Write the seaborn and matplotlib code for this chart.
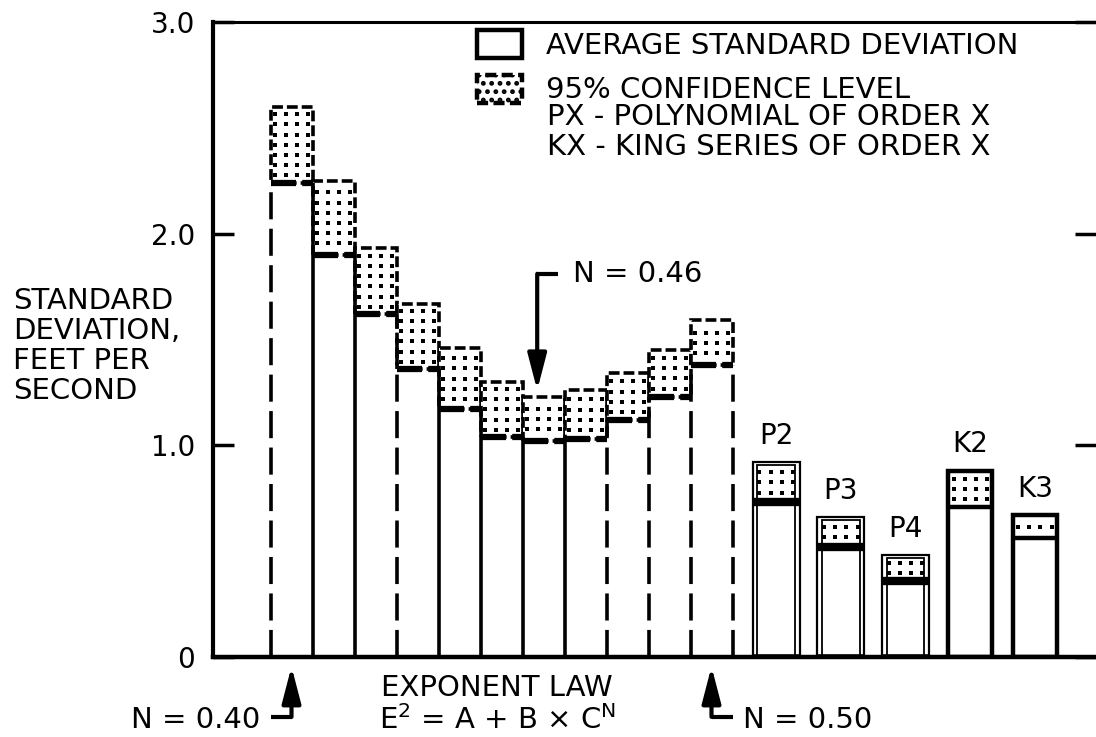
import matplotlib
matplotlib.use("Agg")
import matplotlib.pyplot as plt
from matplotlib.patches import Patch
import numpy as np
import pandas as pd
import seaborn as sns

# ---------------- data ----------------
exp_avg = [2.24, 1.90, 1.62, 1.36, 1.17, 1.04, 1.02, 1.03, 1.12, 1.23, 1.38]
exp_conf = [2.60, 2.25, 1.93, 1.67, 1.46, 1.30, 1.23, 1.26, 1.34, 1.45, 1.59]
exp_edge_dashed = [True, False, False, True, False, False, False, False, True, True, True, True]
fit_labels = ["P2", "P3", "P4", "K2", "K3"]
fit_avg = [0.73, 0.52, 0.36, 0.71, 0.56]
fit_conf = [0.92, 0.66, 0.48, 0.88, 0.67]
y_ticks = [0.0, 1.0, 2.0, 3.0]
y_tick_labels = ["0", "1.0", "2.0", "3.0"]
legend_labels = ["AVERAGE STANDARD DEVIATION", "95% CONFIDENCE LEVEL"]
legend_notes = ["PX - POLYNOMIAL OF ORDER X", "KX - KING SERIES OF ORDER X"]
y_label = "STANDARD\nDEVIATION,\nFEET PER\nSECOND"
n_marks = ["N = 0.40", "N = 0.46", "N = 0.50"]
n_mark_bar = [0, 6, 10]
group_title = "EXPONENT LAW"
group_formula = r"E$^{2}$ = A + B $\times$ C$^{N}$"

# ---------------- style ----------------
sns.set_theme(style="white")
plt.rcParams["font.family"] = ["DejaVu Sans"]
plt.rcParams["hatch.linewidth"] = 2.2
plt.rcParams["hatch.color"] = "black"
plt.rcParams["mathtext.default"] = "regular"
for key in ("text.color", "axes.labelcolor", "xtick.color", "ytick.color", "axes.edgecolor"):
    plt.rcParams[key] = "black"

FS = 21
W, H = 1096, 737
fig = plt.figure(figsize=(W / 100, H / 100), dpi=100)
ax = fig.add_axes([213 / W, (H - 657) / H, (W - 213) / W, (657 - 22) / H])

n_exp = len(exp_avg)
exp_pos = np.arange(n_exp, dtype=float)
fit_step = 1.54
fit_pos = 11.54 + fit_step * np.arange(len(fit_labels))
fit_w = 1.12

df_exp = pd.DataFrame({"pos": exp_pos, "avg": exp_avg, "conf": exp_conf})
df_fit = pd.DataFrame({"pos": fit_pos, "avg": fit_avg, "conf": fit_conf, "label": fit_labels})

# white average bars through seaborn
sns.barplot(data=df_exp, x="pos", y="avg", native_scale=True, width=1.0,
            color="white", saturation=1, edgecolor="none", errorbar=None, ax=ax)
sns.barplot(data=df_fit, x="pos", y="avg", native_scale=True, width=fit_w / fit_step,
            color="white", saturation=1, edgecolor="none", errorbar=None, ax=ax)

dash_conf = (0, (3.0, 1.1))
dash_edge = (0, (7.5, 2.6))
DOT_DX, DOT_DY = 0.265, 0.048


def stipple(xc, width, y0, y1):
    """Square dot screen filling a confidence box (grid derived from the box)."""
    nx = max(1, int((width - 0.12) / DOT_DX) + 1)
    ny = max(1, int((y1 - y0 - 0.02) / DOT_DY))
    xs = xc + (np.arange(nx) - (nx - 1) / 2) * DOT_DX
    ys = y0 + (y1 - y0) / 2 + (np.arange(ny) - (ny - 1) / 2) * DOT_DY
    gx, gy = np.meshgrid(xs, ys)
    ax.scatter(gx.ravel(), gy.ravel(), marker="s", s=7, color="black",
               linewidths=0, zorder=4)


# ---- exponent-law group ----
conf_h = df_exp["conf"] - df_exp["avg"]
ax.bar(df_exp["pos"], conf_h, bottom=df_exp["avg"], width=1.0, facecolor="white",
       edgecolor="black", linewidth=2.6, linestyle=dash_conf, zorder=3)
for p, a, c in zip(df_exp["pos"], df_exp["avg"], df_exp["conf"]):
    stipple(p, 1.0, a, c)
ax.hlines(df_exp["avg"], df_exp["pos"] - 0.5, df_exp["pos"] + 0.5, colors="black",
          linewidth=4.5, linestyles=[(0, (4, 1.0))], zorder=4)
for i, dashed in enumerate(exp_edge_dashed):
    neighbours = [exp_avg[j] for j in (i - 1, i) if 0 <= j < n_exp]
    ax.vlines(i - 0.5, 0, max(neighbours), colors="black", linewidth=2.6,
              linestyles=[dash_edge if dashed else "solid"], zorder=4)

# ---- fitted-curve group ----
ax.bar(df_fit["pos"], df_fit["conf"] - df_fit["avg"], bottom=df_fit["avg"], width=fit_w,
       facecolor="white", edgecolor="none", linewidth=0, zorder=3)
for p, a, c in zip(df_fit["pos"], df_fit["avg"], df_fit["conf"]):
    stipple(p, fit_w, a, c)
is_poly = df_fit["label"].str.startswith("P").to_numpy()
pos_p, pos_k = df_fit["pos"][is_poly], df_fit["pos"][~is_poly]
conf_p, conf_k = df_fit["conf"][is_poly], df_fit["conf"][~is_poly]
avg_p, avg_k = df_fit["avg"][is_poly], df_fit["avg"][~is_poly]
# polynomial bars: double outline, heavy average band
ax.bar(pos_p, conf_p, width=fit_w, fill=False, edgecolor="black", linewidth=1.6, zorder=5)
ax.bar(pos_p, conf_p - 0.012, width=fit_w - 0.22, fill=False, edgecolor="black",
       linewidth=1.3, zorder=5)
ax.hlines(avg_p, pos_p - fit_w / 2, pos_p + fit_w / 2, colors="black", linewidth=6, zorder=5)
ax.hlines([0] * len(pos_p), pos_p - fit_w / 2, pos_p + fit_w / 2, colors="black",
          linewidth=4, zorder=5)
# king series bars: single heavy outline
ax.bar(pos_k, conf_k, width=fit_w - 0.08, fill=False, edgecolor="black", linewidth=3.2, zorder=5)
ax.hlines(avg_k, pos_k - (fit_w - 0.08) / 2, pos_k + (fit_w - 0.08) / 2, colors="black",
          linewidth=3.2, zorder=5)
for p, c, lab in zip(df_fit["pos"], df_fit["conf"], df_fit["label"]):
    ax.annotate(lab, xy=(p, c), xytext=(0, 9), textcoords="offset points",
                ha="center", va="bottom", fontsize=FS - 1)

# ---------------- axes ----------------
x_left = (213 - 291.5) / 42
x_right = (W - 291.5) / 42
ax.set_xlim(x_left, x_right)
ax.set_ylim(0, 3.0)
ax.set_xticks([])
ax.set_yticks(y_ticks)
ax.set_yticklabels(y_tick_labels)
ax.set_xlabel("")
ax.set_ylabel("")
ax.tick_params(axis="y", which="both", direction="in", length=15, width=2.5,
               left=True, right=True, labelright=False, labelsize=FS - 1, pad=13,
               colors="black")
for side in ("left", "bottom", "top"):
    ax.spines[side].set_visible(True)
    ax.spines[side].set_color("black")
ax.spines["left"].set_linewidth(3)
ax.spines["bottom"].set_linewidth(3.2)
ax.spines["top"].set_linewidth(2.2)
ax.spines["right"].set_visible(False)

fig.text(13 / W, 1 - 346 / H, y_label, ha="left", va="center", fontsize=FS,
         linespacing=1.08)

# ---------------- legend ----------------
handles = [Patch(facecolor="white", edgecolor="black", linewidth=3.2),
           Patch(facecolor="white", edgecolor="black", hatch="..", linewidth=3.2,
                 linestyle=(0, (2.5, 1.2)))]
leg = fig.legend(handles, legend_labels, loc="upper left",
                 bbox_to_anchor=(477 / W, 1 - 30 / H), fontsize=FS, frameon=False,
                 handlelength=1.55, handleheight=1.1, handletextpad=0.8,
                 labelspacing=0.5, borderpad=0, borderaxespad=0)
for k, note in enumerate(legend_notes):
    fig.text(547 / W, 1 - (117 + 30 * k) / H, note, ha="left", va="center", fontsize=FS)

# ---------------- annotations ----------------
arrow_kw = dict(arrowstyle="-|>,head_length=1.0,head_width=0.26", color="black",
                lw=3, shrinkA=0, shrinkB=0, mutation_scale=22)
# N = 0.46 (pointing down into bar 7)
b = n_mark_bar[1]
xa = exp_pos[b] - 0.15
ya = 1.81
ax.annotate("", xy=(xa, exp_conf[b] + 0.03), xytext=(xa, ya), arrowprops=arrow_kw)
ax.plot([xa - 0.03, xa + 0.5], [ya, ya], color="black", lw=3, solid_capstyle="butt")
ax.text(xa + 0.85, ya, n_marks[1], ha="left", va="center", fontsize=FS)

# N = 0.40 and N = 0.50 below the axis
y_low = -0.283
for idx, side in ((0, -1), (2, 1)):
    b = n_mark_bar[idx]
    xa = exp_pos[b]
    ax.annotate("", xy=(xa, -0.045), xytext=(xa, y_low), arrowprops=arrow_kw,
                annotation_clip=False)
    ax.plot([xa, xa + side * 0.5], [y_low, y_low], color="black", lw=3,
            clip_on=False, solid_capstyle="butt")
    ax.text(xa + side * 0.75, y_low - 0.015, n_marks[idx],
            ha="right" if side < 0 else "left", va="center", fontsize=FS, clip_on=False)

gx = exp_pos.mean() - 0.1
ax.text(gx, -0.148, group_title, ha="center", va="center", fontsize=FS, clip_on=False)
ax.text(gx, -0.30, group_formula, ha="center", va="center", fontsize=FS, clip_on=False)

fig.savefig("out.png", dpi=100)
